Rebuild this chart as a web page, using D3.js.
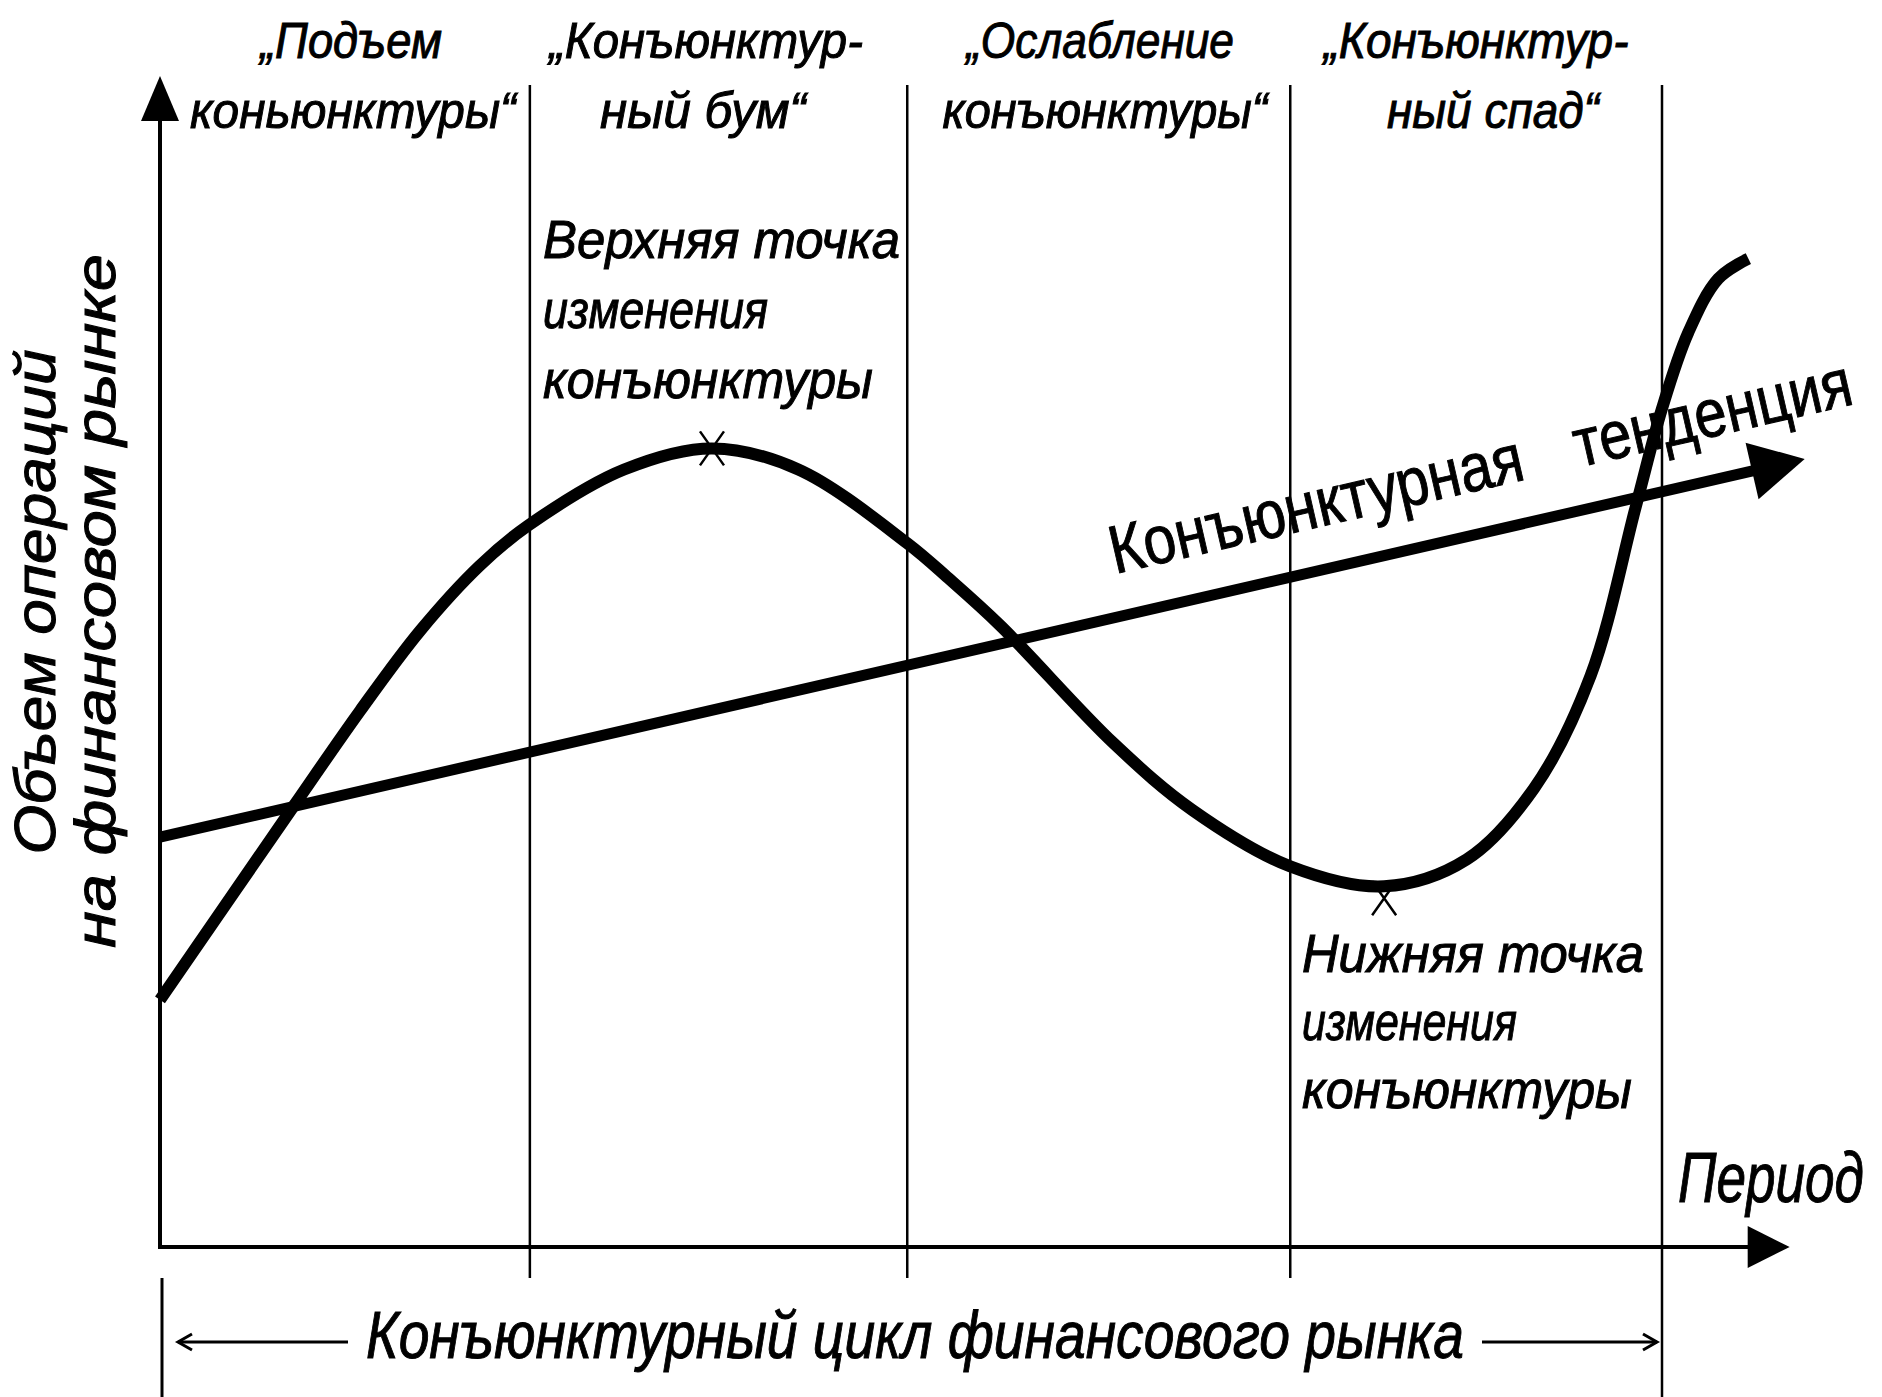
<!DOCTYPE html>
<html>
<head>
<meta charset="utf-8">
<script src="https://cdn.jsdelivr.net/npm/d3@7"></script>
<style>
  html, body { margin: 0; padding: 0; background: #fff; }
  svg { display: block; }
  text { font-family: "Liberation Sans Narrow", "Liberation Sans", Arial, sans-serif; fill: #000; stroke: #000; stroke-width: 1; }
</style>
</head>
<body>
<div id="chart"></div>
<script>
// period axis: 0 = origin, each phase of the cycle is ~1 unit wide
var phaseBounds = [0.985, 1.99, 3.01, 4.0];
var phaseLabels = [
    ["„Подъем", "коньюнктуры“"],
    ["„Конъюнктур-", "ный бум“"],
    ["„Ослабление", "конъюнктуры“"],
    ["„Конъюнктур-", "ный спад“"]
];

// the cycle curve (volume of operations, 0..100)
var cycleX = [0, 0.357, 0.533, 0.692, 0.852, 0.98, 1.236, 1.47, 1.70, 1.99, 2.10, 2.24, 2.54, 2.75, 3.01, 3.26, 3.48, 3.66, 3.81, 3.93, 4.00, 4.07, 4.15, 4.23];
var cycleY = [21.1, 37.7, 45.8, 52.6, 58.2, 61.6, 66.4, 68.2, 66.4, 60.1, 57.1, 53.0, 43.0, 37.3, 32.5, 30.8, 33.1, 39.2, 48.8, 63.2, 71.6, 78.1, 82.7, 84.4];

// long-run trend (straight line with arrow)
var trendX = [0, 4.38];
var trendY = [35.0, 67.3];

// turning points marked with a cross
var peakPoint = [1.47, 68.2];
var troughPoint = [3.26, 30.8];

var axisEndX = 4.34;   // tip of the period axis
var axisEndY = 100;    // tip of the volume axis

var width = 1882, height = 1397;

var svg = d3.select("#chart").append("svg")
    .attr("width", width)
    .attr("height", height);

svg.append("rect").attr("width", width).attr("height", height).attr("fill", "#fff");

var x = d3.scaleLinear().domain([0, 4]).range([160, 1662]);
var y = d3.scaleLinear().domain([0, 100]).range([1247, 76]);

// makes a filled triangle arrow head ending at (tx,ty) coming from (fx,fy)
function arrowHead(fx, fy, tx, ty, len, half){
    var dx = tx - fx, dy = ty - fy;
    var l = Math.sqrt(dx*dx + dy*dy);
    dx /= l; dy /= l;
    var bx = tx - dx*len, by = ty - dy*len;
    return [[tx, ty], [bx - dy*half, by + dx*half], [bx + dy*half, by - dx*half]];
}

function drawArrow(fx, fy, tx, ty, len, half){
    svg.append("path")
        .attr("d", "M" + arrowHead(fx, fy, tx, ty, len, half).join("L") + "Z")
        .attr("fill", "#000");
}

// phase dividers
phaseBounds.forEach(function(b, i){
    svg.append("line")
        .attr("x1", x(b)).attr("x2", x(b))
        .attr("y1", 85)
        .attr("y2", i == phaseBounds.length - 1 ? height : 1278)
        .attr("stroke", "#000")
        .attr("stroke-width", 2.5);
});

// axes
svg.append("line")
    .attr("x1", x(0)).attr("x2", x(0))
    .attr("y1", y(0) + 2).attr("y2", y(axisEndY) + 30)
    .attr("stroke", "#000").attr("stroke-width", 4);
drawArrow(x(0), y(0), x(0), y(axisEndY), 45, 19);

svg.append("line")
    .attr("x1", x(0) - 2).attr("x2", x(axisEndX) - 30)
    .attr("y1", y(0)).attr("y2", y(0))
    .attr("stroke", "#000").attr("stroke-width", 4);
drawArrow(x(0), y(0), x(axisEndX), y(0), 42, 21);

// trend line
var tx0 = x(trendX[0]), ty0 = y(trendY[0]);
var tx1 = x(trendX[1]), ty1 = y(trendY[1]);
var tAng = Math.atan2(ty1 - ty0, tx1 - tx0);
svg.append("line")
    .attr("x1", tx0).attr("y1", ty0)
    .attr("x2", tx1 - Math.cos(tAng)*40).attr("y2", ty1 - Math.sin(tAng)*40)
    .attr("stroke", "#000").attr("stroke-width", 11);
drawArrow(tx0, ty0, tx1, ty1, 54, 29);

// the cycle curve
var cycle = cycleX.map(function(d, i){ return [d, cycleY[i]]; });
var line = d3.line()
    .x(function(d){ return x(d[0]); })
    .y(function(d){ return y(d[1]); })
    .curve(d3.curveCatmullRom.alpha(0.5));

// crosses at the turning points
function cross(cx, cy){
    svg.append("path")
        .attr("d", "M" + (cx-12) + "," + (cy-17) + "L" + (cx+12) + "," + (cy+17) +
                   "M" + (cx+12) + "," + (cy-17) + "L" + (cx-12) + "," + (cy+17))
        .attr("stroke", "#000").attr("stroke-width", 2.5).attr("fill", "none");
}
cross(x(peakPoint[0]), y(peakPoint[1]));
cross(x(troughPoint[0]), y(troughPoint[1]) + 12);

svg.append("path")
    .datum(cycle)
    .attr("d", line)
    .attr("fill", "none")
    .attr("stroke", "#000")
    .attr("stroke-width", 12);

// text helper: squeezes the text horizontally to the width seen in the print
function label(tx, ty, str, size, len, opts){
    opts = opts || {};
    var t = svg.append("text")
        .attr("font-size", size)
        .attr("font-style", opts.upright ? "normal" : "italic")
        .attr("text-anchor", opts.anchor || "start")
        .text(str);
    var natural = t.node().getComputedTextLength();
    var sx = natural > 0 ? len / natural : 1;
    t.attr("transform", "translate(" + tx + "," + ty + ") rotate(" + (opts.rotate || 0) + ") scale(" + sx + ",1)");
    return t;
}

// phase headings (centre, width of each line)
var headPos = [
    [[351, 182], [353, 326]],
    [[706, 314], [703, 206]],
    [[1100, 268], [1105, 325]],
    [[1476, 305], [1493, 212]]
];
phaseLabels.forEach(function(lines, i){
    label(headPos[i][0][0], 58, lines[0], 50, headPos[i][0][1], {anchor: "middle"});
    label(headPos[i][1][0], 128, lines[1], 50, headPos[i][1][1], {anchor: "middle"});
});

// turning point notes
label(543, 258, "Верхняя точка", 54, 357);
label(543, 328, "изменения", 54, 225);
label(543, 398, "конъюнктуры", 54, 330);

label(1302, 972, "Нижняя точка", 54, 342);
label(1302, 1040, "изменения", 54, 215);
label(1302, 1108, "конъюнктуры", 54, 330);

// trend caption along the line
var ang = tAng * 180 / Math.PI;
label(1115, 574, "Конъюнктурная", 68, 423, {upright: true, rotate: ang});
label(1115 + Math.cos(tAng)*476, 574 + Math.sin(tAng)*476, "тенденция", 68, 284, {upright: true, rotate: ang});

// axis titles
label(55, 602, "Объем операций", 58, 505, {anchor: "middle", rotate: -90});
label(115, 601, "на финансовом рынке", 58, 694, {anchor: "middle", rotate: -90});
label(1678, 1202, "Период", 70, 186);

// cycle length bracket
svg.append("line")
    .attr("x1", 162).attr("x2", 162).attr("y1", 1278).attr("y2", height)
    .attr("stroke", "#000").attr("stroke-width", 3);
svg.append("line")
    .attr("x1", 178).attr("x2", 348).attr("y1", 1342).attr("y2", 1342)
    .attr("stroke", "#000").attr("stroke-width", 3);
svg.append("line")
    .attr("x1", 1482).attr("x2", 1657).attr("y1", 1342).attr("y2", 1342)
    .attr("stroke", "#000").attr("stroke-width", 3);
svg.append("path")
    .attr("d", "M192,1334L178,1342L192,1350M1643,1334L1657,1342L1643,1350")
    .attr("stroke", "#000").attr("stroke-width", 3).attr("fill", "none");
label(915, 1358, "Конъюнктурный цикл финансового рынка", 66, 1098, {anchor: "middle"});
</script>
</body>
</html>
